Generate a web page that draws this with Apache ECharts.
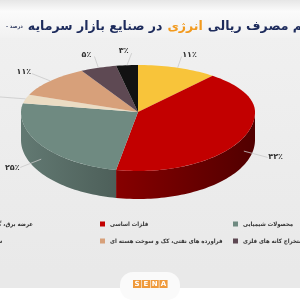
<!DOCTYPE html>
<html>
<head>
<meta charset="utf-8">
<script src="https://cdn.jsdelivr.net/npm/echarts@6/dist/echarts.min.js"></script>
<style>
  html, body { margin: 0; padding: 0; }
  #main { width: 300px; height: 300px; }
</style>
</head>
<body>
<div id="main"></div>
<script>
// slices, clockwise from 12 o'clock
var names = [
  'عرضه برق، گاز، بخاروآب گرم',
  'فلزات اساسی',
  'محصولات شیمیایی',
  'سیمان، آهک و گچ',
  'فراورده های نفتی، کک و سوخت هسته ای',
  'استخراج کانه های فلزی',
  'سایر'
];
var values = [11, 42, 25, 3, 11, 5, 3];
var colors = ['#f8c43a', '#c20000', '#6f8a81', '#ebdcc3', '#d7a07a', '#5e4953', '#121212'];

var FONT = 'DejaVu Sans';
var FONT_C = '"DejaVu Sans Condensed", "DejaVu Sans"';
var total = values.reduce(function(a, b) { return a + b; }, 0);

function toFa(n) {
  return String(n).replace(/\d/g, function(d) { return '۰۱۲۳۴۵۶۷۸۹'[d]; }) + '٪';
}

function shade(hex, f) {
  var n = parseInt(hex.slice(1), 16);
  var r = Math.round(((n >> 16) & 255) * f);
  var g = Math.round(((n >> 8) & 255) * f);
  var b = Math.round((n & 255) * f);
  return 'rgb(' + r + ',' + g + ',' + b + ')';
}

// pie geometry (3d look: back half flatter than front half)
var cx = 138, cy = 112, rx = 117, ryB = 47, ryF = 59, depth = 28;

function pt(a, dy) {
  var c = Math.cos(a);
  return [cx + rx * Math.sin(a), cy - (c > 0 ? ryB : ryF) * c + (dy || 0)];
}

function arc(a0, a1, dy) {
  var steps = Math.max(2, Math.ceil((a1 - a0) / 0.03));
  var out = [];
  for (var k = 0; k <= steps; k++) {
    out.push(pt(a0 + (a1 - a0) * k / steps, dy));
  }
  return out;
}

function makeRender(i) {
  return function(params, api) {
    var before = values.slice(0, i).reduce(function(a, b) { return a + b; }, 0);
    var start = before / total * Math.PI * 2;
    var end = (before + values[i]) / total * Math.PI * 2;
    var children = [];

    // side wall only on the front half
    var s0 = Math.max(start, Math.PI / 2);
    var s1 = Math.min(end, Math.PI * 1.5);
    if (s1 > s0) {
      var upper = arc(s0, s1, 0);
      var lower = arc(s0, s1, depth).reverse();
      children.push({
        type: 'polygon',
        shape: { points: upper.concat(lower) },
        style: {
          fill: {
            type: 'linear', global: true,
            x: cx - rx, y: 0, x2: cx + rx, y2: 0,
            colorStops: [
              { offset: 0, color: shade(colors[i], 0.88) },
              { offset: 1, color: shade(colors[i], 0.42) }
            ]
          },
          stroke: null
        }
      });
    }

    // top face
    children.push({
      type: 'polygon',
      shape: { points: [[cx, cy]].concat(arc(start, end, 0)) },
      style: { fill: colors[i], stroke: null }
    });

    // label + leader line
    var mid = (start + end) / 2;
    var s = Math.sin(mid), c = Math.cos(mid);
    var front = c < 0;
    var rim = pt(mid, front ? depth / 2 : 0);
    var lx = cx + rx * 1.3 * s;
    var ly = front ? cy - ryF * 1.25 * c + depth / 2 : cy - ryB * 1.3 * c;
    var ex = lx - (s > 0 ? 8 : -8);
    children.push({
      type: 'polyline',
      shape: { points: [rim, [ex, ly + (front ? 0 : 2)]] },
      style: { stroke: '#c9c9c9', lineWidth: 0.8, fill: null }
    });
    children.push({
      type: 'text',
      x: lx, y: ly,
      style: {
        text: toFa(values[i]),
        fill: '#333',
        font: 'bold 8px ' + FONT,
        align: 'center',
        verticalAlign: 'middle'
      }
    });

    return { type: 'group', children: children };
  };
}

var seriesList = [];
for (var i = 0; i < values.length; i++) {
  seriesList.push({
    name: names[i],
    type: 'custom',
    coordinateSystem: 'none',
    silent: true,
    itemStyle: { color: colors[i] },
    data: [[values[i]]],
    renderItem: makeRender(i)
  });
}

var legendBase = {
  orient: 'vertical',
  top: 216,
  icon: 'rect',
  itemWidth: 5,
  itemHeight: 5,
  itemGap: 11,
  selectedMode: false,
  textStyle: { fontSize: 6, color: '#333', fontFamily: FONT_C, fontWeight: 'bold', padding: [0, 0, 0, 0] }
};

function legendCol(pos, list) {
  var l = Object.assign({}, legendBase, pos);
  l.data = list;
  return l;
}

var option = {
  animation: false,
  backgroundColor: {
    type: 'linear', x: 0, y: 0, x2: 0, y2: 1,
    colorStops: [
      { offset: 0, color: '#f1f1f1' },
      { offset: 0.9, color: '#e9e9e9' },
      { offset: 1, color: '#e9e9e9' }
    ]
  },
  title: {
    left: 1,
    top: 13,
    text: '{u|- درصد} {m|در صنایع بازار سرمایه} {o|انرژی} {m|سهم مصرف ریالی}',
    textStyle: {
      rich: {
        u: { fontSize: 5.5, color: '#3a4468', fontFamily: FONT_C, fontWeight: 'bold' },
        m: { fontSize: 12.5, color: '#1d2b5c', fontFamily: FONT, fontWeight: 'bold' },
        o: { fontSize: 12.5, color: '#f29a1e', fontFamily: FONT, fontWeight: 'bold' }
      }
    }
  },
  legend: [
    legendCol({ left: 228 }, [names[2], names[5]]),
    legendCol({ left: 95 }, [names[1], names[4]]),
    legendCol({ right: 262 }, [names[0], names[3]])
  ],
  graphic: [
    {
      type: 'rect', z: -1, silent: true,
      shape: { x: 0, y: 0, width: 300, height: 38 },
      style: {
        fill: {
          type: 'linear', x: 0, y: 0, x2: 0, y2: 1,
          colorStops: [
            { offset: 0, color: '#e6e6e6' },
            { offset: 0.3, color: '#fbfbfb' },
            { offset: 1, color: '#f1f1f1' }
          ]
        }
      }
    },
    {
      type: 'rect', silent: true,
      shape: { x: 0, y: 288, width: 300, height: 12 },
      style: { fill: '#ffffff' }
    },
    {
      type: 'rect', silent: true,
      shape: { x: 120, y: 272, width: 60, height: 28, r: 13 },
      style: { fill: '#fafafa' }
    },
    {
      type: 'group', left: 133, top: 280, silent: true,
      children: ['S', 'E', 'N', 'A'].map(function(ch, k) {
        return {
          type: 'group', x: k * 8.8,
          children: [
            { type: 'rect', shape: { x: 0, y: 0, width: 8.2, height: 8 }, style: { fill: '#ef9a3c' } },
            { type: 'text', x: 4.1, y: 4.3, style: { text: ch, fill: '#fff', font: 'bold 7px ' + FONT, align: 'center', verticalAlign: 'middle' } }
          ]
        };
      })
    }
  ],
  series: seriesList
};

var myChart = echarts.init(document.getElementById('main'));
myChart.setOption(option);
</script>
</body>
</html>
